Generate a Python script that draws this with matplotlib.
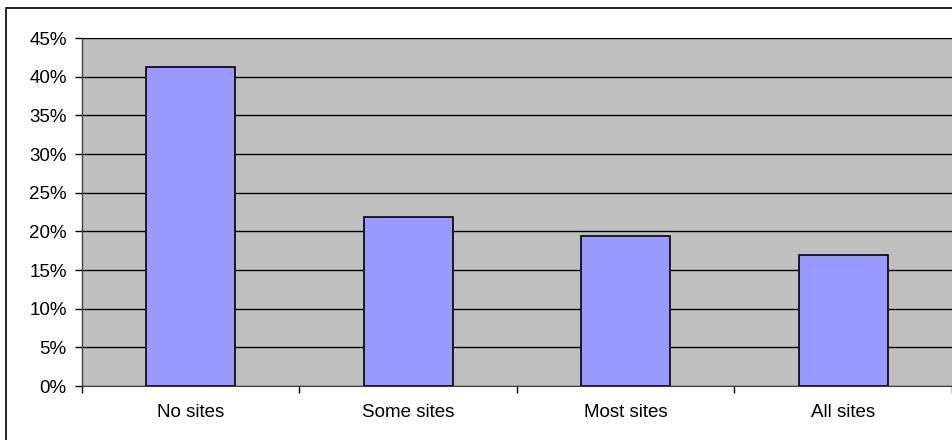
import matplotlib.pyplot as plt
import matplotlib.patches as patches
from matplotlib.ticker import FuncFormatter

categories = ['No sites', 'Some sites', 'Most sites', 'All sites']
shares = [41.3, 21.9, 19.4, 17.0]
y_ticks = [0, 5, 10, 15, 20, 25, 30, 35, 40, 45]

plt.rcParams['font.family'] = ['Liberation Sans', 'DejaVu Sans']

fig = plt.figure(figsize=(9.53, 4.40), dpi=100)
ax = fig.add_axes([82 / 953, 54 / 440, 870 / 953, 348 / 440])

# outer chart border (right and bottom run off the image)
fig.patches.append(patches.Rectangle((6 / 953, -0.1), 1.2, (432 / 440) + 0.1,
                                     transform=fig.transFigure, fill=False,
                                     edgecolor='black', linewidth=1.2))

ax.set_facecolor('#c0c0c0')
x = range(len(categories))
ax.bar(x, shares, width=0.41, color='#9999ff', edgecolor='black', linewidth=1.2, zorder=3)

ax.set_xlim(-0.5, len(categories) - 0.5)
ax.set_ylim(0, 45)
ax.set_yticks(y_ticks)
ax.yaxis.set_major_formatter(FuncFormatter(lambda v, p: '%d%%' % v))
ax.yaxis.grid(True, color='black', linewidth=1.0, zorder=1)
ax.set_axisbelow(True)

# category labels centred, ticks at boundaries
ax.set_xticks([i + 0.5 for i in range(-1, len(categories))])
ax.set_xticklabels([])
ax.set_xticks(list(x), minor=True)
ax.set_xticklabels(categories, minor=True, fontsize=13.5)
ax.tick_params(axis='x', which='major', length=5, width=1, direction='out')
ax.tick_params(axis='x', which='minor', length=0, pad=13)
ax.tick_params(axis='y', length=5, width=1, direction='out', labelsize=13.5, pad=6)

for side in ['top', 'right']:
    ax.spines[side].set_visible(False)
ax.spines['left'].set_color('#404040')
ax.spines['bottom'].set_color('#404040')
ax.spines['left'].set_linewidth(1.0)

fig.savefig('out.png', dpi=100)
